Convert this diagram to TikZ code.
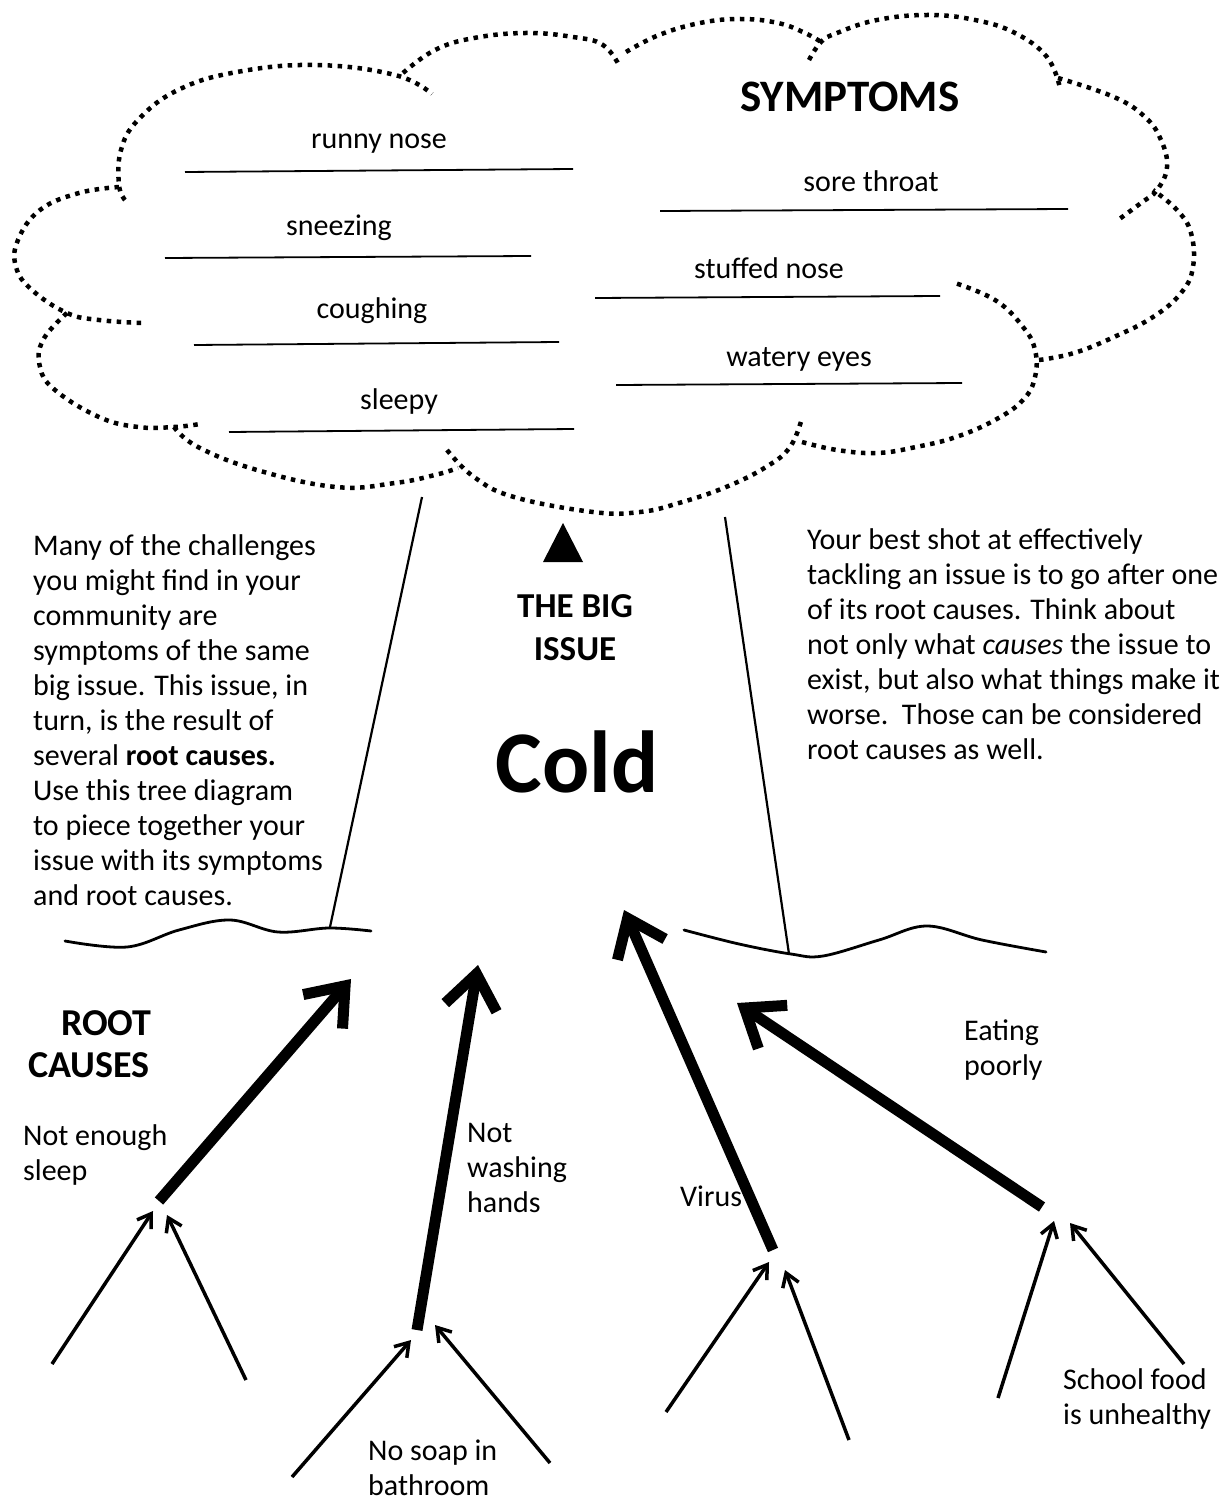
\documentclass[tikz,border=0pt]{standalone}
\usepackage{fontspec}
\setmainfont{Carlito}
\usetikzlibrary{arrows.meta}
\newcommand\leftlines[1]{\vtop{\halign{##\hfil\cr#1\crcr}}}
\newcommand\centerlines[1]{\vtop{\halign{\hfil##\hfil\cr#1\crcr}}}
\begin{document}
\begin{tikzpicture}[x=1pt,y=-1pt,
  bodytext/.style={font=\fontsize{30}{35}\selectfont, inner sep=0pt, anchor=base west},
  symlabel/.style={font=\fontsize{30}{35}\selectfont, inner sep=0pt, anchor=base},
  heading/.style={font=\fontsize{35}{43}\selectfont\bfseries, inner sep=0pt},
  cloudarc/.style={line width=4.5pt, dash pattern=on 4.5pt off 5.5pt},
  blankline/.style={line width=1.8pt},
  trunkline/.style={line width=2.2pt},
  groundline/.style={line width=2.8pt, line cap=round},
  bigarrow/.style={line width=11pt, -{Straight Barb[length=34pt,width=52pt]}},
  smallarrow/.style={line width=3.5pt, -{Straight Barb[length=13pt,width=17pt]}}]
\fill[white] (0,0) rectangle (1224,1503);
\useasboundingbox (0,0) rectangle (1224,1503);

% ---------- cloud ----------
\draw[cloudarc] plot[smooth, tension=0.7] coordinates {(125,200) (119,185) (121,150) (138,120) (178,90) (237,72) (316,65) (395,75) (432,94)};
\draw[cloudarc] plot[smooth, tension=0.7] coordinates {(119,187) (79,193) (40,210) (18,240) (16,267) (32,290) (67,313) (99,320) (142,323)};
\draw[cloudarc] plot[smooth, tension=0.7] coordinates {(67,313) (43,340) (40,367) (55,390) (99,417) (138,427) (174,427) (200,424)};
\draw[cloudarc] plot[smooth, tension=0.7] coordinates {(174,427) (198,447) (257,470) (336,487) (395,483) (435,475) (458,468)};
\draw[cloudarc] plot[smooth, tension=0.7] coordinates {(447,450) (474,477) (514,497) (593,512) (640,512) (679,503) (726,487) (766,467) (790,447) (802,418)};
\draw[cloudarc] plot[smooth, tension=0.7] coordinates {(802,442) (837,450) (877,453) (916,447) (956,437) (995,420) (1023,400) (1035,377) (1035,350) (1023,327) (995,300) (952,282)};
\draw[cloudarc] plot[smooth, tension=0.7] coordinates {(1039,360) (1074,353) (1114,337) (1153,317) (1181,293) (1193,267) (1191,233) (1177,210) (1153,190)};
\draw[cloudarc] plot[smooth, tension=0.7] coordinates {(1058,78) (1114,97) (1145,117) (1161,140) (1167,167) (1157,190) (1141,203) (1118,220)};
\draw[cloudarc] plot[smooth, tension=0.7] coordinates {(809,60) (821,42) (837,33) (877,20) (928,15) (975,20) (1015,33) (1047,57) (1060,88)};
\draw[cloudarc] plot[smooth, tension=0.7] coordinates {(626,52) (659,35) (700,23) (740,19) (778,23) (805,33) (821,42)};
\draw[cloudarc] plot[smooth, tension=0.7] coordinates {(403,73) (435,50) (474,38) (526,33) (573,37) (603,45) (620,67)};

% ---------- symptom blanks ----------
\draw[blankline] (185,172) -- (573,169);
\draw[blankline] (165,258) -- (531,256);
\draw[blankline] (194,345) -- (559,342);
\draw[blankline] (229,432) -- (574,429);
\draw[blankline] (660,211) -- (1068,209);
\draw[blankline] (595,298) -- (940,296);
\draw[blankline] (616,385) -- (962,383);

\node[heading, anchor=base, font=\fontsize{45}{52}\selectfont\bfseries] (symp) at (850,112) {SYMPTOMS};
\node[symlabel] (s1) at (379,149) {runny nose};
\node[symlabel] (s2) at (339,236) {sneezing};
\node[symlabel] (s3) at (372,318) {coughing};
\node[symlabel] (s4) at (399,409) {sleepy};
\node[symlabel] (s5) at (871,192) {sore throat};
\node[symlabel] (s6) at (769,279) {stuffed nose};
\node[symlabel] (s7) at (799,366) {watery eyes};

% ---------- trunk ----------
\coordinate (tl1) at (422,497);
\coordinate (tl2) at (330,927);
\coordinate (tr1) at (725,517);
\coordinate (tr2) at (789,954);
\draw[trunkline] (tl1) -- (tl2);
\draw[trunkline] (tr1) -- (tr2);
\fill (563,523) -- (543,562) -- (583,562) -- cycle;

\draw[groundline] plot[smooth, tension=0.6] coordinates {(65,941) (127,947) (179,930) (230,920) (278,932) (329,928) (371,931)};
\draw[groundline] plot[smooth, tension=0.6] coordinates {(684,930) (739,944) (791,954) (823,956) (879,940) (927,926) (982,940) (1046,952)};

% ---------- texts ----------
\node[bodytext] (leftpara) at (33,555) {\leftlines{Many of the challenges\cr
you might find in your\cr
community are\cr
symptoms of the same\cr
big issue. This issue, in\cr
turn, is the result of\cr
several \textbf{root causes.}\cr
Use this tree diagram\cr
to piece together your\cr
issue with its symptoms\cr
and root causes.}};

\node[bodytext] (rightpara) at (807,549) {\leftlines{Your best shot at effectively\cr
tackling an issue is to go after one\cr
of its root causes. Think about\cr
not only what \textit{causes} the issue to\cr
exist, but also what things make it\cr
worse.\ \ Those can be considered\cr
root causes as well.}};

\node[heading, anchor=base] (bigissue) at (575,617) {\centerlines{THE BIG\cr ISSUE}};
\node[anchor=base, inner sep=0pt, font=\fontsize{88}{96}\selectfont\bfseries] (cold) at (577,792) {Cold};
\node[heading, anchor=base west, font=\fontsize{38}{42}\selectfont\bfseries] (rootcauses) at (28,1035) {\leftlines{\hspace*{33pt}ROOT\cr CAUSES}};

\node[bodytext] (sleep) at (23,1145) {\leftlines{Not enough\cr sleep}};
\node[bodytext] (wash) at (467,1142) {\leftlines{Not\cr washing\cr hands}};
\node[bodytext] (virus) at (680,1206) {Virus};
\node[bodytext] (eat) at (964,1040) {\leftlines{Eating\cr poorly}};
\node[bodytext] (school) at (1063,1389) {\leftlines{School food\cr is unhealthy}};
\node[bodytext] (soap) at (368,1460) {\leftlines{No soap in\cr bathroom}};

% ---------- arrows ----------
\coordinate (A1s) at (159,1201); \coordinate (A1e) at (351,979);
\coordinate (A2s) at (417,1330); \coordinate (A2e) at (478,965);
\coordinate (A3s) at (773,1250); \coordinate (A3e) at (624,910);
\coordinate (A4s) at (1042,1207); \coordinate (A4e) at (737,1003);
\draw[bigarrow] (A1s) -- (A1e);
\draw[bigarrow] (A2s) -- (A2e);
\draw[bigarrow] (A3s) -- (A3e);
\draw[bigarrow] (A4s) -- (A4e);

\coordinate (as) at (52,1364);   \coordinate (ae) at (153,1211);
\coordinate (bs) at (246,1380);  \coordinate (be) at (167,1215);
\coordinate (cs) at (292,1477);  \coordinate (ce) at (411,1340);
\coordinate (ds) at (550,1463);  \coordinate (de) at (435,1325);
\coordinate (es) at (666,1412);  \coordinate (ee) at (769,1262);
\coordinate (fs) at (849,1440);  \coordinate (fe) at (785,1270);
\coordinate (gs) at (998,1398);  \coordinate (ge) at (1054,1221);
\coordinate (hs) at (1184,1364); \coordinate (he) at (1070,1223);
\draw[smallarrow] (as) -- (ae);
\draw[smallarrow] (bs) -- (be);
\draw[smallarrow] (cs) -- (ce);
\draw[smallarrow] (ds) -- (de);
\draw[smallarrow] (es) -- (ee);
\draw[smallarrow] (fs) -- (fe);
\draw[smallarrow] (gs) -- (ge);
\draw[smallarrow] (hs) -- (he);
\end{tikzpicture}
\end{document}
